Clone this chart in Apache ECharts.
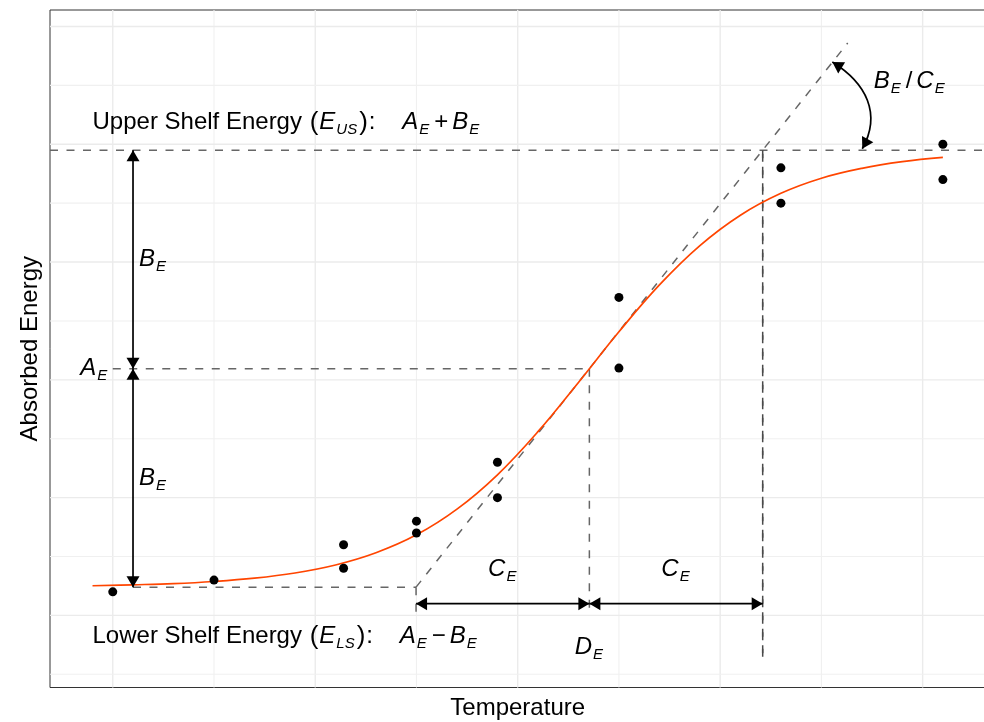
<!DOCTYPE html>
<html><head><meta charset="utf-8">
<script src="https://cdn.jsdelivr.net/npm/echarts@6/dist/echarts.min.js"></script>
<style>html,body{margin:0;padding:0;background:#fff}#chart{width:984px;height:722px}</style>
</head><body><div id="chart"></div>
<script>
// ---------- data ----------
const pointTemp   = [-100, -75, -43, -43, -25, -25, -5, -5, 25, 25, 65, 65, 105, 105];
const pointEnergy = [10, 15, 30, 20, 40, 35, 65, 50, 135, 105, 190, 175, 200, 185];

const curveTemp   = [-105, -95, -85, -75, -65, -55, -45, -35, -25, -15, -5, 5, 15, 25, 35, 45, 55, 65, 75, 85, 95, 105];
const curveEnergy = [12.6, 13.0, 13.5, 14.4, 15.8, 18.0, 21.4, 26.6, 34.2, 45.1, 59.7, 78.0, 98.9, 120.4, 140.3, 157.0, 169.9, 179.2, 185.6, 189.8, 192.6, 194.4];

const xBreaks = [-100, -75, -50, -25, 0, 25, 50, 75, 100];
const yBreaks = [-25, 0, 25, 50, 75, 100, 125, 150, 175, 200, 225, 250];

// model parameters (A_E, B_E, C_E, D_E)
const paramA = 104.75;
const paramB = 92.75;
const paramC = 42.8;
const paramD = 17.7;

// ---------- derived annotation geometry (data coordinates) ----------
const upper = paramA + paramB, lower = paramA - paramB;
const slope = paramB / paramC;
const tanEndT = 81.5;
const dashed = [
  [-115.5, upper, 115.5, upper, 0],
  [-100, paramA, paramD, paramA, 0],
  [-95, lower, paramD - paramC, lower, 0],
  [paramD - paramC, lower, tanEndT, lower + (tanEndT - (paramD - paramC)) * slope, 0],
  [paramD, paramA, paramD, 0, 0],
  [paramD - paramC, lower, paramD - paramC, 0, 0],
  [paramD + paramC, upper, paramD + paramC, -17.5, 1],
  [paramD + paramC, -17.5, paramD + paramC, upper, 1]
];
const arrows = [
  [-95, upper, -95, paramA],
  [-95, paramA, -95, lower],
  [paramD - paramC, 5, paramD, 5],
  [paramD, 5, paramD + paramC, 5]
];
const curvedArrows = [
  [77.7, 234.9, 85.1, 198.1, 86.1, 225.9, 89.9, 212.9]
];
const labelText = [
  '{t|Upper Shelf Energy }{p|(}{i|E}{s|US}{p|)}{t|:    }{i|A}{s|E}{o|+}{i|B}{s|E}',
  '{t|Lower Shelf Energy }{p|(}{i|E}{s|LS}{p|)}{t|:    }{i|A}{s|E}{o|\u2212}{i|B}{s|E}',
  '{i|A}{s|E}',
  '{i|B}{s|E}',
  '{i|B}{s|E}',
  '{i|C}{s|E}',
  '{i|C}{s|E}',
  '{i|D}{s|E}',
  '{i|B}{s|E}{o|/}{i|C}{s|E}'
];
const labelPos = [
  [-105, 209.2], [-105, -8.9], [-101.1, paramA], [-93.5, (upper + paramA) / 2], [-93.5, (paramA + lower) / 2],
  [paramD - paramC / 2, 19.5], [paramD + paramC / 2, 19.5], [paramD, -13.6], [87.9, 226.9]
];
const labelAlign = ['left', 'left', 'right', 'left', 'left', 'center', 'center', 'center', 'left'];

// ---------- chart ----------
const FONT = '"Liberation Sans", Arial, Helvetica, sans-serif';
const rich = {
  t: { fontSize: 24, fontFamily: FONT, color: '#000', lineHeight: 30 },
  o: { fontSize: 24, fontFamily: FONT, color: '#000', lineHeight: 30, padding: [0, 4, 0, 4] },
  p: { fontSize: 26, fontFamily: FONT, color: '#000', lineHeight: 30, padding: [0, 1, 0, 1] },
  i: { fontSize: 24, fontFamily: FONT, fontStyle: 'italic', color: '#000', lineHeight: 30 },
  s: { fontSize: 15, fontFamily: FONT, fontStyle: 'italic', color: '#000', lineHeight: 15, verticalAlign: 'bottom', padding: [0, 1, 0, 1] }
};

function head(tip, from, len, half) {
  let dx = tip[0] - from[0], dy = tip[1] - from[1];
  const L = Math.sqrt(dx * dx + dy * dy) || 1;
  dx /= L; dy /= L;
  const bx = tip[0] - dx * len, by = tip[1] - dy * len;
  return { type: 'polygon', shape: { points: [tip, [bx - dy * half, by + dx * half], [bx + dy * half, by - dx * half]] }, style: { fill: '#000' } };
}

const chart = echarts.init(document.getElementById('chart'), null, { renderer: 'canvas' });
chart.setOption({
  animation: false,
  backgroundColor: '#fff',
  grid: { left: 50, top: 10, width: 935.4, height: 677.5, show: true, borderColor: '#333', borderWidth: 1,
          backgroundColor: '#fff', containLabel: false, outerBoundsMode: 'none' },
  xAxis: {
    type: 'value', min: -115.5, max: 115.5,
    axisLine: { show: false }, axisTick: { show: false }, axisLabel: { show: false }, splitLine: { show: false },
    name: 'Temperature', nameLocation: 'middle', nameGap: 9,
    nameTextStyle: { fontSize: 24, fontFamily: FONT, color: '#000' }
  },
  yAxis: {
    type: 'value', min: -30.6, max: 257,
    axisLine: { show: false }, axisTick: { show: false }, axisLabel: { show: false }, splitLine: { show: false },
    name: 'Absorbed Energy', nameLocation: 'middle', nameGap: 8,
    nameTextStyle: { fontSize: 24, fontFamily: FONT, color: '#000' }
  },
  series: [
    { // grid lines
      type: 'custom', z: 1, silent: true,
      data: xBreaks.map(v => [v, 0]).concat(yBreaks.map(v => [1, v])),
      encode: { x: 0, y: 1 },
      renderItem: function (params, api) {
        const cs = params.coordSys;
        const idx = params.dataIndex;
        if (idx < xBreaks.length) {
          const v = xBreaks[idx];
          const px = api.coord([v, 0])[0];
          const major = v % 50 === 0;
          return { type: 'line', shape: { x1: px, y1: cs.y, x2: px, y2: cs.y + cs.height },
            style: { stroke: major ? '#ebebeb' : '#f0f0f0', lineWidth: major ? 1.4 : 1.1 } };
        }
        const v = yBreaks[idx - xBreaks.length];
        const py = api.coord([0, v])[1];
        const major = v % 50 === 0;
        return { type: 'line', shape: { x1: cs.x, y1: py, x2: cs.x + cs.width, y2: py },
          style: { stroke: major ? '#ebebeb' : '#f0f0f0', lineWidth: major ? 1.4 : 1.1 } };
      }
    },
    { // dashed guides
      type: 'custom', z: 2, silent: true,
      data: dashed, encode: { x: [0, 2], y: [1, 3] },
      renderItem: function (params, api) {
        const p1 = api.coord([api.value(0), api.value(1)]);
        const p2 = api.coord([api.value(2), api.value(3)]);
        const dark = api.value(4) === 1;
        return { type: 'line', shape: { x1: p1[0], y1: p1[1], x2: p2[0], y2: p2[1] },
          style: { stroke: dark ? '#4a4a4a' : '#666', lineWidth: 1.5, lineDash: [8, 8.5] } };
      }
    },
    { // fitted curve
      type: 'line', z: 3, silent: true, smooth: 0.4, showSymbol: false, symbol: 'none',
      data: curveTemp.map((t, i) => [t, curveEnergy[i]]),
      lineStyle: { color: '#FF4500', width: 1.7 }
    },
    { // observations
      type: 'scatter', z: 4, silent: true, symbol: 'circle', symbolSize: 9,
      data: pointTemp.map((t, i) => [t, pointEnergy[i]]),
      itemStyle: { color: '#000', opacity: 1 }
    },
    { // straight double arrows
      type: 'custom', z: 5, silent: true,
      data: arrows, encode: { x: [0, 2], y: [1, 3] },
      renderItem: function (params, api) {
        const p1 = api.coord([api.value(0), api.value(1)]);
        const p2 = api.coord([api.value(2), api.value(3)]);
        return { type: 'group', children: [
          { type: 'line', shape: { x1: p1[0], y1: p1[1], x2: p2[0], y2: p2[1] }, style: { stroke: '#000', lineWidth: 1.7 } },
          head(p1, p2, 11, 6.5), head(p2, p1, 11, 6.5)
        ] };
      }
    },
    { // curved double arrow
      type: 'custom', z: 5, silent: true,
      data: curvedArrows, encode: { x: [0, 2], y: [1, 3] },
      renderItem: function (params, api) {
        const p1 = api.coord([api.value(0), api.value(1)]);
        const p2 = api.coord([api.value(2), api.value(3)]);
        const c1 = api.coord([api.value(4), api.value(5)]);
        const c2 = api.coord([api.value(6), api.value(7)]);
        return { type: 'group', children: [
          { type: 'bezierCurve', shape: { x1: p1[0], y1: p1[1], x2: p2[0], y2: p2[1], cpx1: c1[0], cpy1: c1[1], cpx2: c2[0], cpy2: c2[1] },
            style: { stroke: '#000', lineWidth: 1.7, fill: null } },
          head(p1, c1, 11, 6.5), head(p2, c2, 11, 6.5)
        ] };
      }
    },
    { // text annotations
      type: 'custom', z: 6, silent: true,
      data: labelPos, encode: { x: 0, y: 1 },
      renderItem: function (params, api) {
        const p = api.coord([api.value(0), api.value(1)]);
        const i = params.dataIndex;
        return { type: 'text', x: p[0], y: p[1],
          style: { text: labelText[i], rich: rich, align: labelAlign[i], verticalAlign: 'middle',
                   fontSize: 24, fontFamily: FONT, fill: '#000' } };
      }
    }
  ]
});
</script></body></html>
